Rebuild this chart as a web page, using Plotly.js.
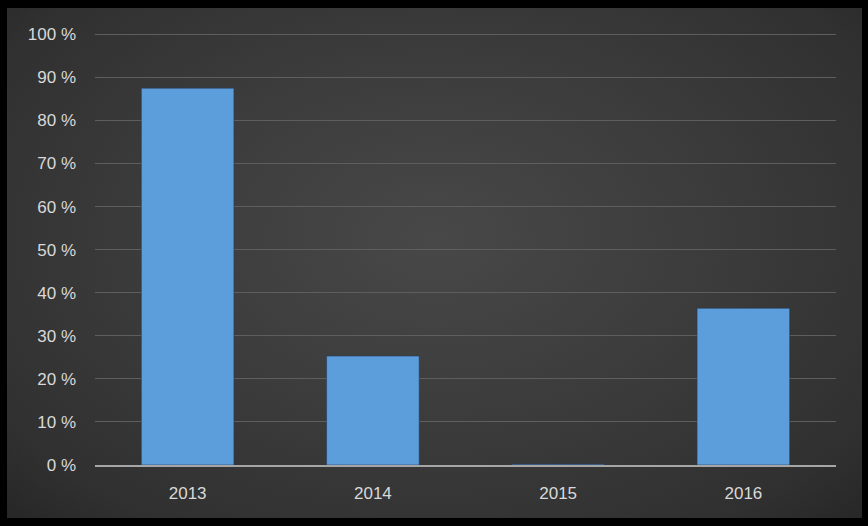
<!DOCTYPE html>
<html>
<head>
<meta charset="utf-8">
<script src="https://cdn.plot.ly/plotly-3.0.1.min.js"></script>
<style>
  html, body { margin:0; padding:0; background:#000; width:868px; height:526px; overflow:hidden; }
  #frame { position:absolute; left:7px; top:8px; width:855px; height:510px;
    background: radial-gradient(ellipse at 50% 45%, #484848 0%, #3c3c3c 45%, #303030 85%, #272727 100%); }
  #chart { position:absolute; left:-7px; top:-8px; width:868px; height:526px; }
</style>
</head>
<body>
<div id="frame"><div id="chart"></div></div>
<script>
const categories = ["2013", "2014", "2015", "2016"];
const values = [0.875, 0.253, 0.002, 0.364];
const tickValues = [0, 0.1, 0.2, 0.3, 0.4, 0.5, 0.6, 0.7, 0.8, 0.9, 1.0];
const tickLabels = ["0 %", "10 %", "20 %", "30 %", "40 %", "50 %", "60 %", "70 %", "80 %", "90 %", "100 %"];

const trace = {
  type: "bar",
  x: categories,
  y: values,
  marker: { color: "#5c9ddb", line: { color: "rgba(40,60,90,0.6)", width: 1 } },
  width: 0.5,
  hoverinfo: "x+y"
};

const layout = {
  width: 868, height: 526,
  paper_bgcolor: "rgba(0,0,0,0)",
  plot_bgcolor: "rgba(0,0,0,0)",
  margin: { l: 95, r: 32, t: 33, b: 61 },
  showlegend: false,
  font: { family: "Liberation Sans, Arial, sans-serif", color: "#d9d9d9", size: 16 },
  xaxis: {
    type: "category",
    showgrid: false,
    showline: true, linecolor: "#a6a6a6", linewidth: 2,
    ticks: "", ticklen: 0, ticklabelstandoff: 12,
    tickfont: { size: 17, color: "#d9d9d9" },
    zeroline: false
  },
  yaxis: {
    range: [0, 1.003],
    tickvals: tickValues,
    ticktext: tickLabels,
    showgrid: true, gridcolor: "#5e5e5e", gridwidth: 1,
    showline: false, zeroline: false,
    ticks: "", ticklabelstandoff: 18,
    tickfont: { size: 17, color: "#d9d9d9" }
  }
};

Plotly.newPlot("chart", [trace], layout, { displayModeBar: false, staticPlot: true });
</script>
</body>
</html>
